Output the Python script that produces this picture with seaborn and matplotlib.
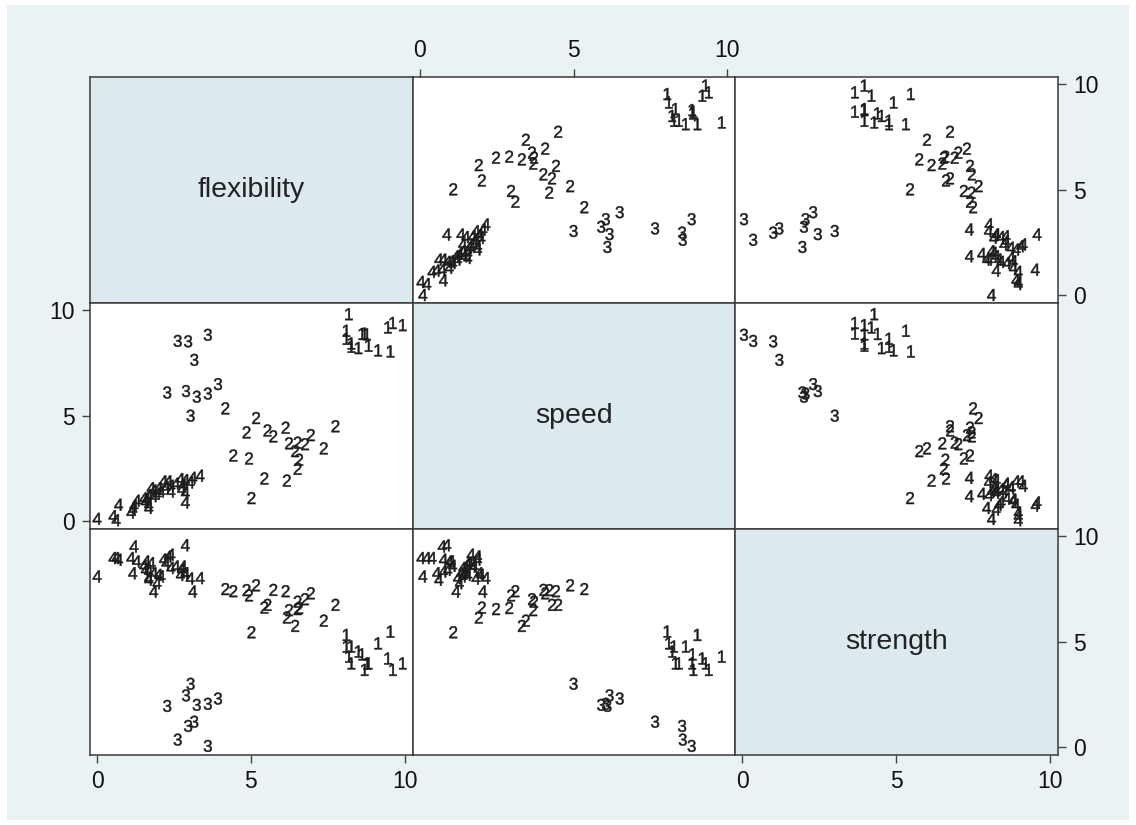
import pandas as pd
import matplotlib
matplotlib.use('Agg')
import matplotlib.pyplot as plt
import seaborn as sns
from matplotlib.patches import Rectangle

# Cluster membership (k-means, 4 groups) for the 80 students
cluster = ['1'] * 15 + ['2'] * 20 + ['3'] * 10 + ['4'] * 35

flexibility = [
    # group 1
    9.54, 9.14, 8.50, 8.27, 8.83, 8.27, 8.11, 8.78, 8.62, 8.70, 8.11, 9.46, 9.94, 9.62, 8.19,
    # group 2
    7.75, 7.37, 6.95, 6.76, 6.52, 6.57, 6.44, 6.24, 6.13, 6.17, 5.73, 5.54, 5.44, 5.02, 4.94,
    4.43, 4.86, 5.17, 4.17, 6.52,
    # group 3
    3.04, 3.24, 3.60, 2.28, 2.89, 3.93, 3.16, 2.96, 2.62, 3.60,
    # group 4
    0.00, 0.62, 0.52, 1.10, 1.16, 1.20, 0.70, 1.68, 1.68, 1.57, 1.60, 2.87, 1.95, 2.08, 1.84,
    2.00, 2.87, 2.75, 2.40, 2.56, 2.79, 2.32, 2.87, 2.71, 3.11, 3.35, 2.16, 1.76, 1.84, 1.52,
    2.24, 2.40, 3.03, 1.68, 1.29,
]

speed = [
    8.05, 8.10, 8.21, 8.27, 8.32, 8.43, 8.65, 8.86, 8.88, 8.90, 9.03, 9.19, 9.30, 9.40, 9.82,
    4.50, 3.45, 4.08, 3.65, 2.48, 2.91, 3.32, 3.69, 4.43, 1.92, 4.02, 4.30, 2.02, 1.09, 2.97,
    3.11, 4.21, 4.89, 5.35, 3.72,
    5.00, 5.90, 6.05, 6.10, 6.17, 6.50, 7.65, 8.53, 8.55, 8.84,
    0.10, 0.04, 0.23, 0.40, 0.55, 0.73, 0.77, 0.62, 0.77, 0.91, 1.02, 0.88, 1.29, 1.40, 1.45,
    1.56, 1.34, 1.50, 1.67, 1.77, 1.72, 1.88, 1.94, 1.99, 2.05, 2.15, 1.88, 1.56, 1.18, 1.07,
    1.61, 1.40, 1.83, 1.23, 0.96,
]

strength = [
    5.48, 4.92, 4.53, 4.77, 3.97, 3.97, 4.77, 3.97, 4.40, 3.66, 5.32, 4.20, 3.97, 3.66, 4.29,
    6.75, 6.00, 7.30, 7.02, 6.55, 6.60, 5.75, 6.50, 7.40, 6.15, 7.46, 6.75, 6.62, 5.45, 7.20,
    7.40, 7.45, 7.68, 7.50, 6.90,
    3.00, 2.00, 2.05, 1.95, 2.45, 2.30, 1.20, 1.00, 0.35, 0.05,
    8.10, 8.97, 8.97, 8.97, 8.25, 9.52, 8.89, 7.94, 8.33, 8.41, 8.81, 9.58, 7.78, 8.10, 8.25,
    8.17, 8.25, 8.41, 9.13, 8.57, 8.57, 9.05, 8.25, 8.17, 7.38, 8.02, 8.90, 8.73, 7.38, 8.60,
    8.73, 8.50, 8.00, 8.02, 8.81,
]

variables = ['flexibility', 'speed', 'strength']
axis_ticks = [0, 5, 10]

df = pd.DataFrame({'cluster': cluster, 'flexibility': flexibility,
                   'speed': speed, 'strength': strength})

sns.set_theme(style='white')
plt.rcParams['font.family'] = ['Liberation Sans', 'DejaVu Sans']
plt.rcParams['mathtext.fontset'] = 'custom'
plt.rcParams['mathtext.rm'] = 'Liberation Sans'
plt.rcParams['mathtext.it'] = 'Liberation Sans'

# group number used as the marker itself (like mlabel with mlabpos(0))
marks = {c: f'${c}$' for c in ['1', '2', '3', '4']}
ink = '#1c1c1c'

fig = plt.figure(figsize=(11.36, 8.25), dpi=100)
fig.patches.append(Rectangle((7 / 1136, 5 / 825), 1122 / 1136, 815 / 825,
                             transform=fig.transFigure, facecolor='#eaf2f4',
                             edgecolor='none', zorder=-10))
gs = fig.add_gridspec(3, 3, left=90 / 1136, right=1058 / 1136,
                      top=1 - 77 / 825, bottom=1 - 755 / 825, wspace=0, hspace=0)

for i, yv in enumerate(variables):
    for j, xv in enumerate(variables):
        ax = fig.add_subplot(gs[i, j])
        if i == j:
            ax.set_facecolor('#dce9ef')
            ax.text(0.5, 0.5, xv, transform=ax.transAxes, ha='center', va='center',
                    fontsize=20.5, color='#222222')
        else:
            ax.set_facecolor('white')
            sns.scatterplot(data=df, x=xv, y=yv, style='cluster', markers=marks,
                            s=74, color=ink, edgecolor=ink, linewidth=0.35,
                            legend=False, ax=ax)
        ax.set_xlim(-0.23, 10.26)
        ax.set_ylim(-0.38, 10.35)
        ax.set_xticks(axis_ticks)
        ax.set_yticks(axis_ticks)
        ax.set_xlabel('')
        ax.set_ylabel('')
        ax.tick_params(bottom=False, top=False, left=False, right=False,
                       labelbottom=False, labeltop=False, labelleft=False, labelright=False,
                       length=5.8, width=1, color='#444444', pad=5,
                       labelsize=16.5, labelcolor='#111111')
        for sp in ax.spines.values():
            sp.set_color('#3a3a3a')
            sp.set_linewidth(1.1)
        # alternating axes, Stata graph matrix style
        if i == 0 and j == 1:
            ax.tick_params(top=True, labeltop=True)
        if i == 2 and j != 1:
            ax.tick_params(bottom=True, labelbottom=True)
        if j == 2 and i != 1:
            ax.tick_params(right=True, labelright=True)
        if i == 1 and j == 0:
            ax.tick_params(left=True, labelleft=True)

fig.savefig('out.png', dpi=100, facecolor='white')
